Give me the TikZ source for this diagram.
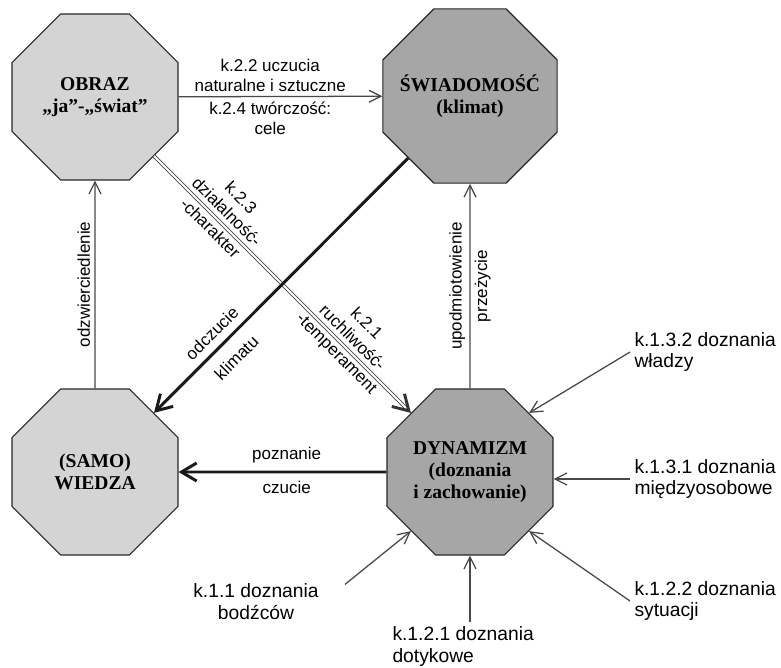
\documentclass[tikz,border=0pt]{standalone}
\usepackage{fontspec}
\setmainfont{Liberation Serif}
\setsansfont{Liberation Sans}
\usetikzlibrary{arrows.meta,positioning,shapes.geometric}
\definecolor{octlight}{RGB}{212,212,212}
\definecolor{octdark}{RGB}{166,166,166}
\definecolor{linegray}{RGB}{72,72,72}

\begin{document}
\begin{tikzpicture}[x=0.025cm,y=-0.025cm,
  >={Straight Barb[length=0.3cm,width=0.3cm]},
  oct/.style={regular polygon,regular polygon sides=8,
    minimum size=4.49cm,inner sep=-6pt,draw=black!85,line width=0.8pt,
    font=\fontsize{13.9}{15.6}\selectfont\bfseries,align=center},
  lab/.style={font=\sffamily\fontsize{12.1}{14.2}\selectfont,align=center},
  outlab/.style={font=\sffamily\fontsize{13.7}{15.6}\selectfont,align=left,inner sep=3pt},
  thinarr/.style={->,draw=linegray,line width=0.9pt},
  heavytip/.style={-{Straight Barb[length=0.38cm,width=0.45cm]},line width=2.1pt},
  heavyarr/.style={heavytip,draw=black!90},
  dblline/.style={draw=linegray,double=white,double distance=1.4pt,line width=0.6pt,shorten >=2pt}]
\useasboundingbox (0,0) rectangle (781,667);

\node[oct,fill=octlight] (obraz) at (95,97) {OBRAZ\\„ja”-„świat”};
\node[oct,fill=octdark] (swiad) at (470,96) {ŚWIADOMOŚĆ\\(klimat)};
\node[oct,fill=octlight] (samo) at (95,472) {(SAMO)\\WIEDZA};
\node[oct,fill=octdark] (dyn) at (470,472) {DYNAMIZM\\(doznania\\i zachowanie)};

\node[outlab,anchor=west] (k132) at (630,352) {k.1.3.2 doznania\\władzy};
\node[outlab,anchor=west] (k131) at (630,479) {k.1.3.1 doznania\\międzyosobowe};
\node[outlab,anchor=west] (k122) at (630,601) {k.1.2.2 doznania\\sytuacji};
\node[outlab,anchor=north west] (k121) at (388,622) {k.1.2.1 doznania\\dotykowe};
\node[outlab,align=center] (k11) at (256,602) {k.1.1 doznania\\bodźców};

\draw[thinarr] (obraz) -- node[lab,above,pos=0.45]{k.2.2 uczucia\\naturalne i sztuczne}
  node[lab,below,pos=0.45]{k.2.4 twórczość:\\cele} (swiad);
\draw[dblline] (obraz) -- node[lab,sloped,above,pos=0.25,inner sep=4pt]{k.2.3\\działalność-}
  node[lab,sloped,below,pos=0.25,inner sep=3pt]{-charakter}
  node[lab,sloped,above,pos=0.74,inner sep=4pt]{k.2.1\\ruchliwość-}
  node[lab,sloped,below,pos=0.74,inner sep=3pt]{-temperament} (dyn);
\draw[heavyarr,draw=black!80,dash pattern=on 0pt off 100cm] (obraz) -- (dyn);
\draw[heavyarr] (swiad) -- node[lab,sloped,above=2pt,pos=0.73]{odczucie}
  node[lab,sloped,below=5pt,pos=0.73]{klimatu} (samo);
\draw[thinarr] (samo) -- node[lab,rotate=90,anchor=south,inner sep=3pt]{odzwierciedlenie} (obraz);
\draw[thinarr] (dyn) -- node[lab,rotate=90,anchor=south,inner sep=3pt]{upodmiotowienie}
  node[lab,rotate=90,anchor=north,inner sep=3pt]{przeżycie} (swiad);
\draw[heavyarr] (dyn) -- node[lab,above=2pt,pos=0.48]{poznanie}
  node[lab,below=2pt,pos=0.48]{czucie} (samo);

% doznania
\draw[thinarr] (k132.west) -- (dyn.45);
\draw[thinarr] (k131.west) -- (k131.west -| dyn.east);
\draw[thinarr] (k122.west) -- (dyn.-45);
\draw[thinarr] (k121.north -| dyn.south) -- (dyn.south);
\draw[thinarr,shorten <=0.7cm] (k11.east) -- (dyn.225);
\end{tikzpicture}
\end{document}
